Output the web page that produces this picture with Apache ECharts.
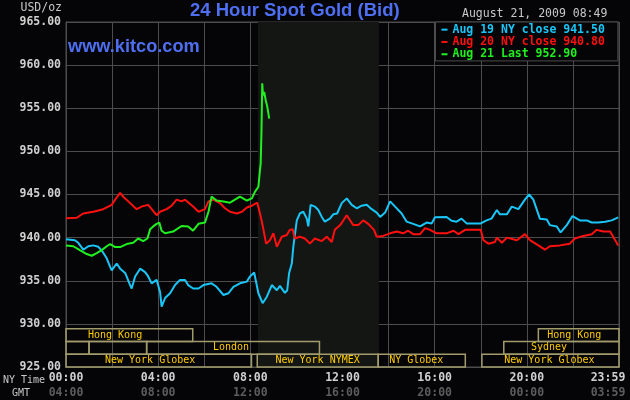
<!DOCTYPE html>
<html><head><meta charset="utf-8">
<script src="https://cdn.jsdelivr.net/npm/echarts@6/dist/echarts.min.js"></script>
<style>html,body{margin:0;padding:0;background:#050507;}#c{width:630px;height:400px;}</style>
</head><body><div id="c"></div>
<script>
const seriesNames = ['Aug 19 NY close 941.50', 'Aug 20 NY close 940.80', 'Aug 21 Last 952.90'];

// minutes after 00:00 NY time, and price
const aug19Min = [0,23,32,45,58,71,84,97,106,115,119,132,141,154,167,171,180,193,206,214,223,236,245,249,258,271,284,297,310,318,331,345,358,379,392,410,423,436,453,471,479,490,501,512,523,536,549,557,570,576,581,588,592,601,609,618,627,631,637,648,657,666,674,687,696,706,718,731,744,757,770,783,796,809,818,831,844,857,874,887,904,922,939,952,961,991,1004,1017,1030,1043,1080,1095,1108,1122,1130,1148,1161,1178,1195,1206,1217,1234,1252,1260,1278,1288,1304,1319,1338,1356,1369,1386,1404,1421,1438];
const aug19Val = [939.8,939.7,939.4,938.6,939.0,939.1,938.95,938.25,937.6,936.6,936.2,937.0,936.4,935.9,934.5,934.1,935.5,936.4,936.0,935.5,934.7,935.1,933.7,932.0,933.0,933.55,934.5,935.1,935.1,934.5,934.1,934.1,934.5,934.7,934.3,933.35,933.55,934.3,934.7,934.9,935.5,935.95,933.55,932.4,933.15,934.5,933.9,934.4,933.6,933.9,935.9,937.0,938.95,942.0,942.8,943.0,942.2,941.3,943.8,943.6,943.2,942.4,941.85,942.2,942.7,942.8,944.0,944.55,943.8,943.4,943.7,943.8,943.3,942.9,942.4,942.9,944.2,943.6,942.8,941.85,941.6,941.3,941.75,941.65,942.35,942.4,941.95,941.85,942.2,941.65,941.65,942.0,942.2,943.2,942.7,942.7,943.6,943.3,944.4,945.0,944.4,942.2,942.1,941.45,941.3,940.6,941.45,942.5,942.0,942.0,941.75,941.75,941.85,942.0,942.35];

const aug20Min = [0,28,45,71,97,119,128,141,149,167,184,197,214,236,245,262,275,288,301,310,331,345,362,371,384,401,414,427,445,458,471,484,498,503,510,516,521,531,540,549,562,575,583,590,596,609,622,635,648,666,679,692,700,714,731,748,761,774,787,802,809,826,844,861,878,891,904,922,935,948,965,991,1009,1022,1039,1080,1087,1100,1117,1122,1135,1148,1174,1195,1208,1230,1247,1260,1286,1312,1325,1347,1369,1382,1399,1417,1430,1438];
const aug20Val = [942.24,942.3,942.8,943.0,943.3,943.8,944.4,945.2,944.75,944.0,943.3,943.6,943.8,942.6,943.0,943.3,943.7,944.4,944.2,944.4,943.6,943.0,943.3,944.2,944.4,944.0,943.4,943.0,942.8,943.0,943.5,943.7,944.05,943.2,941.85,940.5,939.3,939.7,940.5,938.95,940.1,940.3,940.9,940.96,939.9,940.1,939.9,939.3,939.9,939.6,940.1,939.5,940.9,941.45,942.6,941.45,941.45,942.0,941.6,940.9,940.1,940.2,940.5,940.7,940.5,940.8,940.4,940.4,941.1,940.9,940.5,940.5,940.8,940.4,940.9,940.9,939.7,939.3,939.5,940.0,939.4,940.0,939.7,940.4,939.7,939.1,938.6,939.0,939.1,939.3,939.9,940.2,940.4,940.9,940.7,940.7,939.7,939.1];

const aug21Min = [0,19,36,54,67,80,93,106,115,128,141,158,175,188,201,212,219,227,236,243,249,258,279,301,318,331,345,362,371,379,392,410,427,440,453,471,484,492,501,505,507,509,511,513,516,520,524,527,529];
const aug21Val = [939.1,939.0,938.55,938.1,937.9,938.2,938.55,939.0,939.25,938.9,938.9,939.25,939.4,939.9,939.6,939.9,940.96,941.3,941.6,941.75,940.8,940.5,940.7,941.35,941.3,940.8,941.6,941.75,943.0,944.75,944.3,944.2,944.05,944.4,944.75,944.3,944.55,945.3,945.9,947.8,948.6,952.3,957.9,956.5,956.9,955.95,955.2,954.4,953.8];

const nyTickLabels  = ['00:00','04:00','08:00','12:00','16:00','20:00','23:59'];
const gmtTickLabels = ['04:00','08:00','12:00','16:00','20:00','00:00','03:59'];

// trading sessions (hours NY time); row 0 = bottom
const sessLabel   = ['Hong Kong','','','London','New York Globex','New York NYMEX','NY Globex','New York Globex','Sydney','Hong Kong'];
const sessStart   = [0, 0, 1.0, 3.5, 0, 8.3, 13.55, 18.05, 19.0, 20.5];
const sessEnd     = [5.5, 1.0, 3.5, 11.0, 8.05, 13.55, 17.33, 24, 24, 24];
const sessRow     = [2, 1, 1, 1, 0, 0, 0, 0, 1, 2];
const sessLabelAt = [2.13, 0.5, 2.25, 7.16, 3.65, 10.92, 15.2, 20.98, 20.96, 22.06];
const nymexHours  = [8.33, 13.58];

const MONO = '"DejaVu Sans Mono", monospace';
const SANS = '"Liberation Sans", Arial, sans-serif';
const GRIDC = '#4c4c4c';
const colors = ['#19c6f7', '#ff1010', '#20f020'];

const toPairs = (m, v) => m.map((t, i) => [t / 60, v[i]]);

const chart = echarts.init(document.getElementById('c'), null, {renderer: 'canvas'});
const lblA = {color: '#d0d0d0', fontFamily: MONO, fontWeight: 'bold', fontSize: 11.5, lineHeight: 15};
const lblB = {color: '#5c5c5c', fontFamily: MONO, fontWeight: 'bold', fontSize: 11.5, lineHeight: 15};

chart.setOption({
  backgroundColor: '#050507',
  animation: false,
  title: [
    {text: '24 Hour Spot Gold (Bid)', left: 190, top: 1, padding: 0,
     textStyle: {color: '#4f6ff2', fontFamily: SANS, fontWeight: 'bold', fontSize: 18.5}},
    {text: 'www.kitco.com', left: 68, top: 38, padding: 0,
     textStyle: {color: '#4f6ff2', fontFamily: SANS, fontWeight: 'bold', fontSize: 18.2}},
    {text: 'August 21, 2009 08:49', left: 462, top: 8, padding: 0,
     textStyle: {color: '#c8c8c8', fontFamily: MONO, fontWeight: 'normal', fontSize: 11.5}}
  ],
  legend: {
    left: 435.5, top: 22, orient: 'vertical', selectedMode: false,
    padding: [1.5, 13, 0.5, 6], itemGap: 0, itemWidth: 6, itemHeight: 2, icon: 'rect',
    backgroundColor: '#050507', borderColor: GRIDC, borderWidth: 1, borderRadius: 0,
    textStyle: {fontFamily: MONO, fontWeight: 'bold', fontSize: 11.5, lineHeight: 12.3},
    data: seriesNames.map((n, i) => ({name: n, textStyle: {color: colors[i]}}))
  },
  graphic: [
    {type: 'text', left: 3, top: 375, silent: true,
     style: {text: 'NY Time', fill: '#c8c8c8', font: '10px ' + MONO}},
    {type: 'text', left: 12, top: 388, silent: true,
     style: {text: 'GMT', fill: '#c8c8c8', font: '10px ' + MONO}}
  ],
  grid: {left: 66, right: 11, top: 22, bottom: 33, show: true, borderColor: GRIDC, borderWidth: 1,
         backgroundColor: 'transparent', containLabel: false, outerBoundsMode: 'none'},
  xAxis: {
    type: 'value', min: 0, max: 24, interval: 2,
    axisLine: {show: true, lineStyle: {color: GRIDC}}, axisTick: {show: false},
    splitLine: {show: true, lineStyle: {color: GRIDC, width: 1}},
    axisLabel: {
      margin: 4, showMinLabel: true, showMaxLabel: true,
      formatter: v => {
        if (v % 4 !== 0) return '';
        const i = Math.round(v / 4);
        if (i === nyTickLabels.length - 1) return '{a2|' + nyTickLabels[i] + '}\n{b2|' + gmtTickLabels[i] + '}';
        return '{a|' + nyTickLabels[i] + '}\n{b|' + gmtTickLabels[i] + '}';
      },
      rich: {a: lblA, b: lblB,
             a2: Object.assign({padding: [0, 22, 0, 0]}, lblA),
             b2: Object.assign({padding: [0, 22, 0, 0]}, lblB)}
    }
  },
  yAxis: [
    {type: 'value', min: 925, max: 965, interval: 5,
     axisLine: {show: true, lineStyle: {color: GRIDC}}, axisTick: {show: false},
     splitLine: {show: true, lineStyle: {color: GRIDC, width: 1}},
     axisLabel: {formatter: v => v.toFixed(2), margin: 5, color: '#d0d0d0',
                 fontFamily: MONO, fontWeight: 'bold', fontSize: 11.5, showMinLabel: true, showMaxLabel: true},
     name: 'USD/oz', nameLocation: 'end', nameGap: 14,
     nameTextStyle: {align: 'right', verticalAlign: 'middle', color: '#c8c8c8', fontFamily: MONO,
                     fontSize: 11.5, padding: [0, 4, 0, 0]}},
    {type: 'value', min: 0, max: 27, show: false, splitLine: {show: false}}
  ],
  series: [
    {type: 'line', z: -1, silent: true, data: [[0, 925]], showSymbol: false,
     lineStyle: {opacity: 0},
     markArea: {silent: true, itemStyle: {color: '#141614'},
                data: [[{xAxis: nymexHours[0]}, {xAxis: nymexHours[1]}]]}},
    {type: 'custom', xAxisIndex: 0, yAxisIndex: 1, z: 3, silent: true, clip: false,
     data: sessStart.map((s, i) => [s, sessEnd[i], sessRow[i], sessLabelAt[i]]),
     renderItem: (params, api) => {
       const s = Math.max(0, api.value(0)), e = Math.min(24, api.value(1)), r = api.value(2);
       const a = api.coord([s, r]), b = api.coord([e, r + 1]);
       const children = [{type: 'rect',
         shape: {x: a[0], y: b[1], width: b[0] - a[0], height: a[1] - b[1]},
         style: {fill: 'none', stroke: '#a29c6c', lineWidth: 1.5}}];
       const lbl = sessLabel[params.dataIndex];
       if (lbl) {
         const c = api.coord([api.value(3), r + 0.5]);
         children.push({type: 'text', x: c[0], y: c[1],
           style: {text: lbl, align: 'center', verticalAlign: 'middle', fill: '#ffcc00', font: '10px ' + MONO}});
       }
       return {type: 'group', children: children};
     }},
    {name: seriesNames[0], type: 'line', z: 2, data: toPairs(aug19Min, aug19Val), showSymbol: false,
     lineStyle: {width: 2, color: colors[0]}, itemStyle: {color: colors[0]}},
    {name: seriesNames[1], type: 'line', z: 2, data: toPairs(aug20Min, aug20Val), showSymbol: false,
     lineStyle: {width: 2, color: colors[1]}, itemStyle: {color: colors[1]}},
    {name: seriesNames[2], type: 'line', z: 2, data: toPairs(aug21Min, aug21Val), showSymbol: false,
     lineStyle: {width: 2, color: colors[2]}, itemStyle: {color: colors[2]}}
  ]
});
</script>
</body></html>
